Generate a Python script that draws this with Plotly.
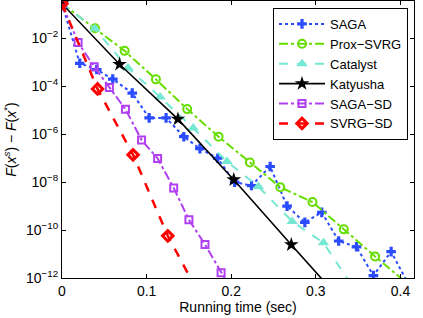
import plotly.graph_objects as go

# ---- data ----
saga_x = [0, 0.021, 0.041, 0.060, 0.083, 0.103, 0.123, 0.144, 0.163, 0.184, 0.204,
          0.224, 0.246, 0.266, 0.287, 0.307, 0.327, 0.348, 0.368, 0.389, 0.410]
saga_y = [2.8e-1, 9.1e-4, 5.0e-4, 2.0e-4, 5.2e-5, 4.8e-6, 4.8e-6, 7.9e-7, 2.5e-7, 1.0e-7, 1.0e-8,
          7.2e-9, 4.5e-8, 1.0e-9, 2.1e-10, 5.5e-10, 3.5e-11, 2.0e-11, 1.26e-12, 1.26e-11, 5.0e-13]

prox_x = [0, 0.039, 0.074, 0.111, 0.148, 0.185, 0.222, 0.258, 0.296, 0.333, 0.370, 0.407]
prox_y = [2.8e-1, 2.63e-2, 3.02e-3, 1.95e-4, 1.12e-5, 7.94e-7, 6.61e-8, 6.17e-9, 1.48e-9,
          1.07e-10, 7.94e-12, 6.31e-13]

cat_x = [0, 0.039, 0.078, 0.116, 0.155, 0.195, 0.232, 0.272, 0.309, 0.348]
cat_y = [2.8e-1, 2.5e-2, 5.75e-4, 3.55e-5, 1.82e-6, 7.24e-8, 6.61e-9, 2.29e-10, 2.95e-11, 2.5e-13]

kat_x = [0, 0.068, 0.137, 0.203, 0.271, 0.339]
kat_y = [2.8e-1, 8.3e-4, 4.27e-6, 1.26e-8, 2.45e-11, 5.0e-14]

sagasd_x = [0, 0.019, 0.038, 0.056, 0.075, 0.094, 0.113, 0.132, 0.150, 0.169, 0.188, 0.207]
sagasd_y = [2.8e-1, 6.76e-3, 6.61e-4, 8.91e-5, 1.10e-5, 5.75e-7, 9.77e-8, 5.75e-9, 2.69e-10,
            2.51e-11, 1.66e-12, 1.26e-13]

svrgsd_x = [0, 0.042, 0.084, 0.125, 0.167]
svrgsd_y = [2.8e-1, 7.76e-5, 1.38e-7, 5.75e-11, 1.0e-13]

x_ticks = [0, 0.1, 0.2, 0.3, 0.4]
x_ticktext = ["0", "0.1", "0.2", "0.3", "0.4"]
y_ticks = [1e-2, 1e-4, 1e-6, 1e-8, 1e-10, 1e-12]
y_ticktext = ["10<sup>−2</sup>", "10<sup>−4</sup>", "10<sup>−6</sup>",
              "10<sup>−8</sup>", "10<sup>−10</sup>", "10<sup>−12</sup>"]

FONT = "Liberation Sans, Arial, Helvetica, sans-serif"

fig = go.Figure()

fig.add_trace(go.Scatter(
    x=saga_x, y=saga_y, name="SAGA", mode="lines+markers",
    line=dict(color="#2a4bff", width=2, dash="dot"),
    marker=dict(symbol="cross", size=8, color="#2a4bff", line=dict(width=0))))
fig.add_trace(go.Scatter(
    x=prox_x, y=prox_y, name="Prox−SVRG", mode="lines+markers",
    line=dict(color="#66dd00", width=2, dash="dashdot"),
    marker=dict(symbol="circle-open", size=8, color="#66dd00", line=dict(width=2))))
fig.add_trace(go.Scatter(
    x=cat_x, y=cat_y, name="Catalyst", mode="lines+markers",
    line=dict(color="#74e8d2", width=2, dash="dash"),
    marker=dict(symbol="triangle-up", size=10, color="#74e8d2", line=dict(width=0))))
fig.add_trace(go.Scatter(
    x=kat_x, y=kat_y, name="Katyusha", mode="lines+markers",
    line=dict(color="black", width=1.6),
    marker=dict(symbol="star", size=11, color="black", line=dict(width=0))))
fig.add_trace(go.Scatter(
    x=sagasd_x, y=sagasd_y, name="SAGA−SD", mode="lines+markers",
    line=dict(color="#b040f0", width=2, dash="dashdot"),
    marker=dict(symbol="square-open", size=7, color="#b040f0", line=dict(width=2))))
fig.add_trace(go.Scatter(
    x=svrgsd_x, y=svrgsd_y, name="SVRG−SD", mode="lines+markers",
    line=dict(color="#ff0000", width=2.5, dash="dash"),
    marker=dict(symbol="diamond-open", size=8, color="#ff0000", line=dict(width=3))))

fig.update_layout(
    width=423, height=318,
    margin=dict(l=62, r=9, t=1, b=40),
    paper_bgcolor="white", plot_bgcolor="white",
    font=dict(family=FONT, size=14, color="black"),
    showlegend=True,
    legend=dict(x=0.983, y=0.975, xanchor="right", yanchor="top",
                bgcolor="white", bordercolor="black", borderwidth=1,
                font=dict(family=FONT, size=13, color="black"),
                itemwidth=46, tracegroupgap=0),
)

fig.update_xaxes(
    range=[0, 0.416], tickvals=x_ticks, ticktext=x_ticktext,
    ticks="inside", ticklen=4, tickcolor="black", mirror="ticks",
    showline=True, linecolor="black", linewidth=1, showgrid=False, zeroline=False,
    tickfont=dict(family=FONT, size=14),
    title=dict(text="Running time (sec)", font=dict(family=FONT, size=14), standoff=2),
)
fig.update_yaxes(
    type="log", range=[-12, -0.44], tickvals=y_ticks, ticktext=y_ticktext,
    ticks="inside", ticklen=4, tickcolor="black", mirror="ticks",
    showline=True, linecolor="black", linewidth=1, showgrid=False, zeroline=False,
    tickfont=dict(family=FONT, size=14),
    title=dict(text="<i>F</i>(<i>x</i><sup><i>s</i></sup>) − <i>F</i>(<i>x</i><sup>*</sup>)",
               font=dict(family=FONT, size=14), standoff=6),
)

fig.write_html("out.html", config={"displayModeBar": False},
               post_script="document.body.style.margin='0';")
